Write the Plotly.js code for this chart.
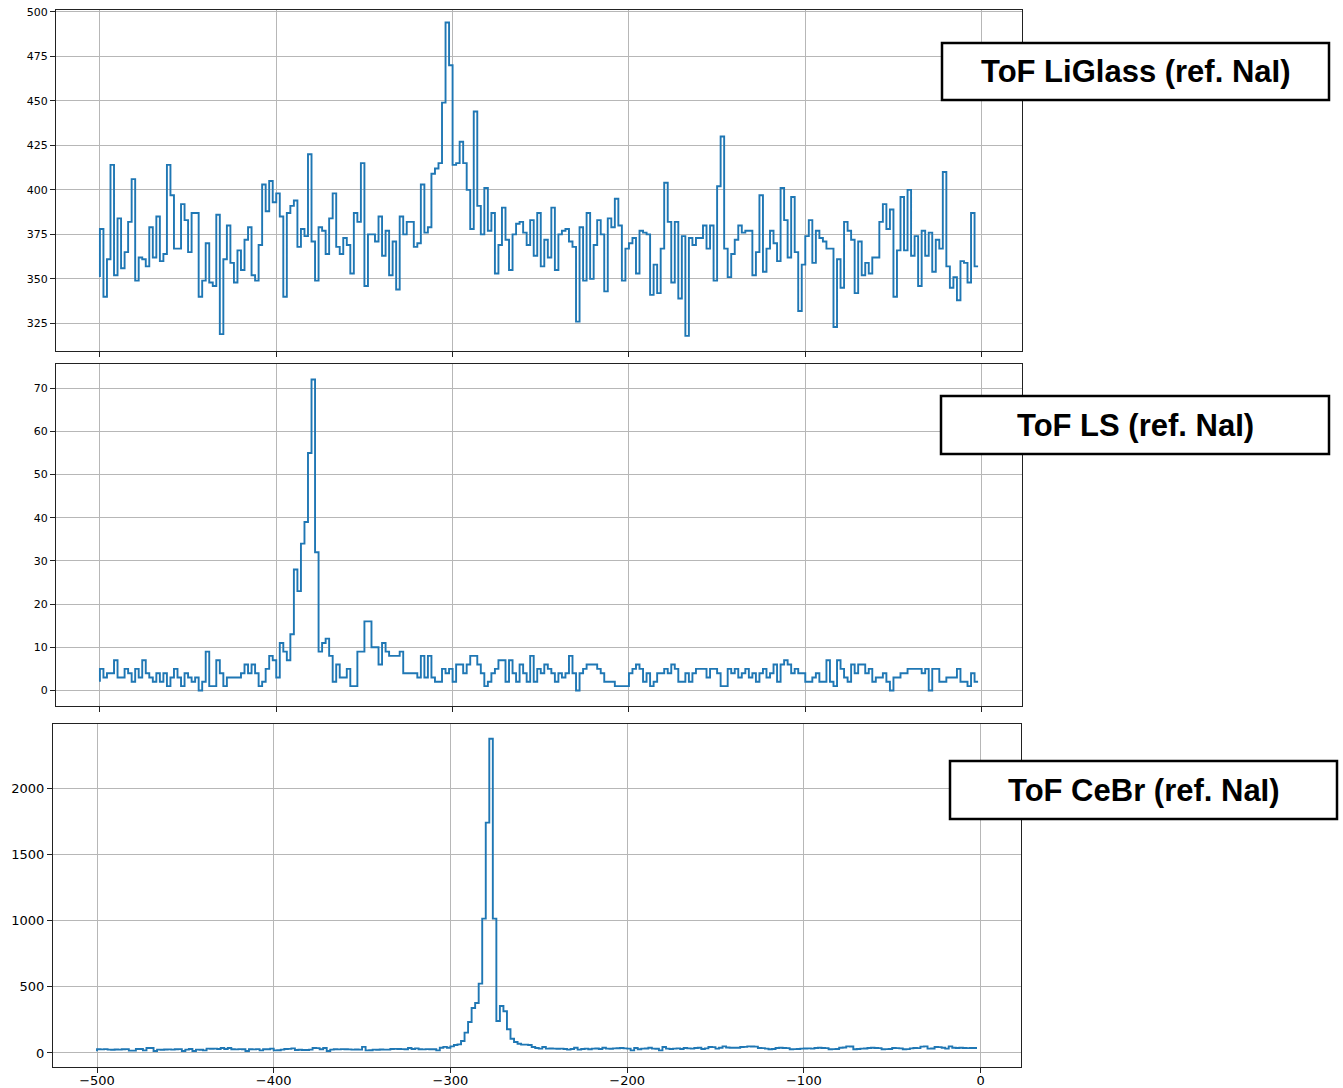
<!DOCTYPE html>
<html>
<head>
<meta charset="utf-8">
<script src="https://cdn.plot.ly/plotly-3.0.1.min.js"></script>
<style>
html,body{margin:0;padding:0;background:#ffffff;}
#chart{width:1343px;height:1088px;}
</style>
</head>
<body>
<div id="chart"></div>
<script>
// ---- data (bin grid: -500 .. -2, width 2; step drawn "pre" style) ----
const binStart = -500;
const binWidth = 2;

const liGlassCounts = [351,
  378,340,361,414,352,384,356,365,382,406,
  349,362,361,357,379,362,385,360,364,414,
  397,367,367,392,383,365,387,387,340,349,
  370,348,346,386,319,361,380,359,348,366,
  355,372,379,352,349,369,403,388,405,393,
  398,385,340,387,391,394,368,378,374,420,
  371,349,379,377,364,384,398,368,364,373,
  369,353,387,382,415,346,375,375,371,385,
  363,377,352,371,344,385,375,382,382,368,
  370,403,376,379,409,412,415,449,494,470,
  414,415,427,415,400,378,444,391,375,401,
  377,387,353,369,390,372,355,375,381,382,
  376,369,383,363,387,357,372,362,390,355,
  375,377,378,371,368,326,379,349,387,350,
  369,383,375,343,384,379,395,380,349,367,
  370,373,353,377,376,375,341,358,342,367,
  404,382,348,382,339,374,318,373,369,373,
  373,380,367,380,349,402,430,367,351,364,
  372,380,376,377,377,352,365,397,354,367,
  377,370,360,401,383,362,396,365,332,358,
  374,383,359,377,373,371,367,367,323,361,
  345,382,377,372,342,371,352,359,353,362,
  362,382,392,378,389,340,366,396,366,400,
  363,374,346,377,363,376,354,372,367,410,
  357,345,351,338,360,359,348,387,357];

const lsCounts = [2,
  5,3,4,4,7,3,3,5,4,2,
  5,3,7,4,3,2,4,2,4,1,
  3,5,3,1,4,3,2,3,0,2,
  9,1,1,7,4,1,3,3,3,3,
  4,6,4,6,4,1,2,5,8,7,
  3,11,9,7,13,28,23,34,39,55,
  72,32,9,11,12,8,2,6,3,3,
  5,1,1,9,9,16,16,10,10,6,
  11,9,8,8,8,9,4,4,4,4,
  3,8,3,8,3,2,2,5,4,5,
  2,6,6,4,6,8,8,6,4,1,
  2,4,5,7,7,2,7,4,2,6,
  4,2,8,2,5,4,6,5,4,2,
  4,3,4,8,4,0,4,5,6,6,
  6,5,4,2,2,2,1,1,1,1,
  4,5,6,5,2,4,1,2,4,4,
  5,4,6,5,2,2,4,2,4,5,
  5,5,3,5,5,4,1,1,5,4,
  5,3,4,5,3,4,2,4,5,3,
  4,6,2,6,7,6,4,5,4,4,
  2,2,3,4,2,2,7,2,1,7,
  5,3,2,6,4,6,6,4,5,2,
  3,3,4,2,0,3,3,4,4,5,
  5,5,5,4,5,0,5,5,2,2,
  3,3,3,5,2,2,1,4,2];

const cebrCounts = [13,
  28,27,29,25,24,26,25,28,29,18,
  18,30,30,20,38,38,15,25,24,26,
  27,25,28,29,15,25,30,15,25,24,
  20,33,32,33,30,38,30,38,28,27,
  29,28,15,28,27,29,20,28,28,33,
  20,21,25,30,31,35,23,24,23,22,
  25,38,37,28,38,15,25,28,27,29,
  28,27,25,26,25,46,20,21,25,24,
  26,25,25,30,31,30,29,28,38,30,
  35,28,27,29,28,28,20,40,46,40,
  50,60,65,90,154,234,340,378,524,1015,
  1741,2375,1015,242,355,315,179,108,83,70,
  63,63,60,45,38,33,45,33,34,33,
  32,33,30,25,30,40,25,30,33,28,
  33,34,30,40,33,32,35,36,38,35,
  33,20,38,28,33,34,40,33,32,20,
  45,33,30,33,35,30,38,35,33,38,
  40,30,35,45,44,33,40,50,41,40,
  39,40,45,46,50,49,48,38,37,33,
  28,30,38,39,38,37,28,29,30,33,
  34,35,33,38,39,38,37,28,29,30,
  40,41,50,49,28,30,33,34,38,39,
  38,37,28,29,30,38,37,35,28,29,
  35,38,37,48,50,33,34,45,44,40,
  33,50,40,38,39,38,37,38,38];

const xTickVals = [-500, -400, -300, -200, -100, 0];
const panelLabels = ['ToF LiGlass (ref. NaI)', 'ToF LS (ref. NaI)', 'ToF CeBr (ref. NaI)'];

// ---- build ----
const W = 1343, H = 1088;
const px = v => v / W;
const py = v => 1 - v / H;

function binX(n) {
  const xs = [];
  for (let i = 0; i < n; i++) xs.push(binStart + binWidth * i);
  return xs;
}

const lineStyle = {shape: 'vh', color: '#1f77b4', width: 1.9};
const traces = [
  {x: binX(liGlassCounts.length), y: liGlassCounts, xaxis: 'x', yaxis: 'y', mode: 'lines', line: lineStyle, hoverinfo: 'skip'},
  {x: binX(lsCounts.length), y: lsCounts, xaxis: 'x2', yaxis: 'y2', mode: 'lines', line: lineStyle, hoverinfo: 'skip'},
  {x: binX(cebrCounts.length), y: cebrCounts, xaxis: 'x3', yaxis: 'y3', mode: 'lines', line: lineStyle, hoverinfo: 'skip'}
];

const tickFontSmall = {family: 'DejaVu Sans', size: 11, color: '#000'};
const tickFontBig = {family: 'DejaVu Sans', size: 13, color: '#000'};

function axis(extra) {
  return Object.assign({
    showline: true, mirror: true, linecolor: '#222', linewidth: 1,
    ticks: 'outside', ticklen: 5, tickwidth: 1, tickcolor: '#222',
    showgrid: true, gridcolor: '#b7b7b7', gridwidth: 1,
    zeroline: false, fixedrange: true
  }, extra);
}

const xRange = [-524.9, 22.9];

const layout = {
  width: W, height: H,
  margin: {l: 0, r: 0, t: 0, b: 0},
  paper_bgcolor: '#ffffff', plot_bgcolor: '#ffffff',
  showlegend: false,
  xaxis: axis({domain: [px(56), px(1022)], range: xRange, anchor: 'y', tickmode: 'array', tickvals: xTickVals, showticklabels: false}),
  yaxis: axis({domain: [py(351), py(10)], range: [309.5, 501], anchor: 'x', tick0: 0, dtick: 25, tickfont: tickFontSmall}),
  xaxis2: axis({domain: [px(56), px(1022)], range: xRange, anchor: 'y2', tickmode: 'array', tickvals: xTickVals, showticklabels: false}),
  yaxis2: axis({domain: [py(706), py(364)], range: [-3.6, 75.6], anchor: 'x2', tick0: 0, dtick: 10, tickfont: tickFontSmall}),
  xaxis3: axis({domain: [px(53), px(1021)], range: xRange, anchor: 'y3', tickmode: 'array', tickvals: xTickVals, tickfont: tickFontBig, ticklabelstandoff: -4}),
  yaxis3: axis({domain: [py(1067), py(724)], range: [-106, 2486], anchor: 'x3', tick0: 0, dtick: 500, tickfont: tickFontBig}),
  shapes: [
    {type: 'rect', xref: 'paper', yref: 'paper', x0: px(942), x1: px(1329), y0: py(100), y1: py(43), line: {color: '#000', width: 2.5}, fillcolor: '#ffffff', layer: 'above'},
    {type: 'rect', xref: 'paper', yref: 'paper', x0: px(941), x1: px(1329), y0: py(454), y1: py(396), line: {color: '#000', width: 2.5}, fillcolor: '#ffffff', layer: 'above'},
    {type: 'rect', xref: 'paper', yref: 'paper', x0: px(950), x1: px(1337), y0: py(819), y1: py(761), line: {color: '#000', width: 2.5}, fillcolor: '#ffffff', layer: 'above'}
  ],
  annotations: [
    {text: panelLabels[0], xref: 'paper', yref: 'paper', x: px(1135.5), y: py(72), xanchor: 'center', yanchor: 'middle', showarrow: false, font: {family: 'Liberation Sans, Arial, sans-serif', size: 31, weight: 'bold', color: '#000'}},
    {text: panelLabels[1], xref: 'paper', yref: 'paper', x: px(1135), y: py(425), xanchor: 'center', yanchor: 'middle', showarrow: false, font: {family: 'Liberation Sans, Arial, sans-serif', size: 31, weight: 'bold', color: '#000'}},
    {text: panelLabels[2], xref: 'paper', yref: 'paper', x: px(1143.5), y: py(790), xanchor: 'center', yanchor: 'middle', showarrow: false, font: {family: 'Liberation Sans, Arial, sans-serif', size: 31, weight: 'bold', color: '#000'}}
  ]
};

Plotly.newPlot('chart', traces, layout, {displayModeBar: false, staticPlot: true});
</script>
</body>
</html>
